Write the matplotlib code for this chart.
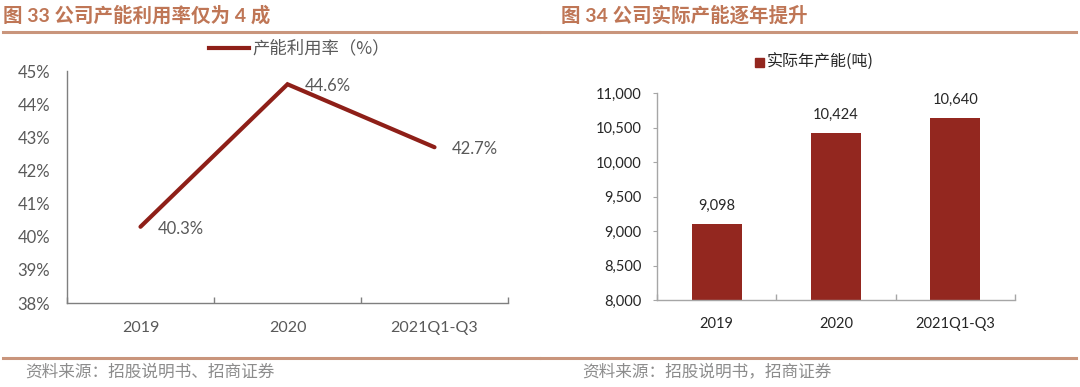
import matplotlib
matplotlib.use("Agg")
import matplotlib.pyplot as plt
from matplotlib.lines import Line2D
from matplotlib.patches import Rectangle
import numpy as np

plt.rcParams['font.family'] = ['Lato', 'Noto Sans CJK SC', 'DejaVu Sans']

# ---- data ----
categories = ["2019", "2020", "2021Q1-Q3"]
utilization = [40.3, 44.6, 42.7]          # %
util_labels = ["40.3%", "44.6%", "42.7%"]
capacity = [9098, 10424, 10640]           # tonnes
cap_labels = ["9,098", "10,424", "10,640"]
util_yticks = [38, 39, 40, 41, 42, 43, 44, 45]
cap_yticks = [8000, 8500, 9000, 9500, 10000, 10500, 11000]

title_left = "图 33 公司产能利用率仅为 4 成"
title_right = "图 34 公司实际产能逐年提升"
legend_left = "产能利用率（%）"
legend_right = "实际年产能(吨)"
source_left = "资料来源：招股说明书、招商证券"
source_right = "资料来源：招股说明书，招商证券"

W, H = 1080, 387
fig = plt.figure(figsize=(W / 100, H / 100), dpi=100)

def fx(px):
    return px / W

def fy(py):
    return 1 - py / H

TITLE_C = "#BF7656"
RULE_C = "#C9957C"
LINE_C = "#8E1F18"
BAR_C = "#93271F"
TXT_C = "#595959"
SRC_C = "#8C8C8C"
CJK = ['Noto Sans CJK SC', 'DejaVu Sans']

# titles
fig.text(fx(3), fy(15), title_left, fontsize=14, fontweight='bold', color=TITLE_C,
         va='center', ha='left', family=['Lato', 'Noto Sans CJK SC'])
fig.text(fx(561), fy(15), title_right, fontsize=14, fontweight='bold', color=TITLE_C,
         va='center', ha='left', family=['Lato', 'Noto Sans CJK SC'])
# rules
for (x0, x1) in [(3, 539), (541, 1076)]:
    fig.add_artist(Line2D([fx(x0), fx(x1)], [fy(32), fy(32)], color=RULE_C, lw=2.2))
    fig.add_artist(Line2D([fx(x0), fx(x1)], [fy(358), fy(358)], color=RULE_C, lw=2.2))
# sources
fig.text(fx(25), fy(372), source_left, fontsize=12, color=SRC_C, va='center', ha='left', family=CJK)
fig.text(fx(582), fy(372), source_right, fontsize=12, color=SRC_C, va='center', ha='left', family=CJK)

# ---- left chart ----
ax1 = fig.add_axes([fx(67), fy(303), fx(508 - 67), (303 - 71) / H])
x = np.arange(len(categories))
ax1.plot(x, utilization, color=LINE_C, lw=3.0, solid_capstyle='round', solid_joinstyle='miter')
for xi, yi, lab in zip(x, utilization, util_labels):
    ax1.annotate(lab, (xi, yi), xytext=(12.5, -1.5), textcoords='offset points',
                 ha='left', va='center', fontsize=12, color=TXT_C)
ax1.set_xlim(-0.5, len(categories) - 0.5)
ax1.set_ylim(min(util_yticks), max(util_yticks))
ax1.set_yticks(util_yticks)
ax1.set_yticklabels([f"{v}%" for v in util_yticks])
ax1.set_xticks(x)
ax1.set_xticklabels(categories)
ax1.set_xticks(np.arange(-0.5, len(categories)), minor=True)
ax1.tick_params(axis='x', which='major', length=0, pad=13, labelsize=11.5, labelcolor=TXT_C)
ax1.tick_params(axis='x', which='minor', direction='in', length=4, color='#7F7F7F', width=1)
ax1.tick_params(axis='y', length=0, pad=12, labelsize=12, labelcolor=TXT_C)
for s in ['top', 'right']:
    ax1.spines[s].set_visible(False)
for s in ['left', 'bottom']:
    ax1.spines[s].set_color('#7F7F7F')
    ax1.spines[s].set_linewidth(1.0)

# left legend
fig.add_artist(Line2D([fx(209), fx(249)], [fy(48), fy(48)], color=LINE_C, lw=3.0))
fig.text(fx(252), fy(48), legend_left, fontsize=12.5, color=TXT_C, va='center', ha='left', family=CJK)

# ---- right chart ----
ax2 = fig.add_axes([fx(657), fy(300), fx(1015 - 657), (300 - 93) / H])
bars = ax2.bar(x, capacity, width=0.42, color=BAR_C)
for xi, yi, lab in zip(x, capacity, cap_labels):
    ax2.annotate(lab, (xi, yi), xytext=(0, 8), textcoords='offset points',
                 ha='center', va='bottom', fontsize=10.5, color='#262626')
ax2.set_xlim(-0.5, len(categories) - 0.5)
ax2.set_ylim(min(cap_yticks), max(cap_yticks))
ax2.set_yticks(cap_yticks)
ax2.set_yticklabels([f"{v:,}" for v in cap_yticks])
ax2.set_xticks(x)
ax2.set_xticklabels(categories)
ax2.set_xticks(np.arange(-0.5, len(categories)), minor=True)
ax2.tick_params(axis='x', which='major', length=0, pad=12, labelsize=10.5, labelcolor='#262626')
ax2.tick_params(axis='x', which='minor', direction='in', length=4, color='#A6A6A6', width=1)
ax2.tick_params(axis='y', direction='out', length=3, color='#A6A6A6', pad=8, labelsize=10.5,
                labelcolor='#262626')
for s in ['top', 'right']:
    ax2.spines[s].set_visible(False)
for s in ['left', 'bottom']:
    ax2.spines[s].set_color('#A6A6A6')
    ax2.spines[s].set_linewidth(1.0)

# right legend
fig.add_artist(Rectangle((fx(755), fy(67)), fx(9), 9 / H, color=BAR_C, transform=fig.transFigure))
fig.text(fx(767), fy(62), legend_right, fontsize=11.5, color='#262626', va='center', ha='left', family=CJK)

fig.savefig("out.png", dpi=100, facecolor='white')
